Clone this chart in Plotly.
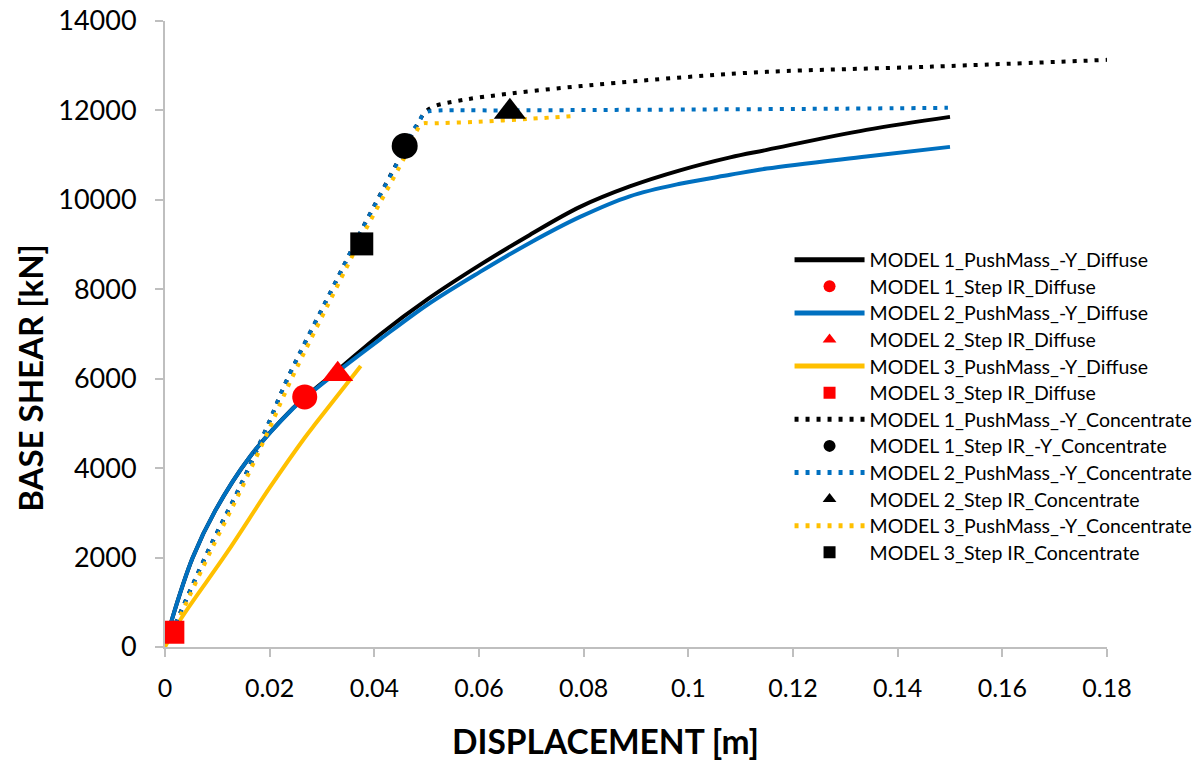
import plotly.graph_objects as go

# ---- data ----
m1_diff_x = [0.0006, 0.0013, 0.0053, 0.0096, 0.0162, 0.0245, 0.0269, 0.033, 0.0411, 0.0502, 0.0602, 0.0697, 0.0793, 0.0888, 0.0984, 0.108, 0.115, 0.134, 0.150]
m1_diff_y = [300, 604, 2000, 3050, 4250, 5346, 5600, 6190, 6990, 7780, 8545, 9216, 9843, 10300, 10660, 10950, 11118, 11565, 11856]

m2_diff_x = [0.0006, 0.0013, 0.0053, 0.0096, 0.0162, 0.0245, 0.0269, 0.033, 0.0411, 0.0502, 0.0602, 0.0697, 0.0793, 0.0888, 0.0984, 0.108, 0.115, 0.134, 0.150]
m2_diff_y = [300, 604, 2000, 3050, 4250, 5340, 5590, 6160, 6880, 7660, 8389, 9037, 9619, 10080, 10360, 10560, 10700, 10970, 11185]

m3_diff_x = [0.0, 0.0029, 0.0118, 0.0201, 0.0267, 0.029, 0.0374]
m3_diff_y = [0, 604, 2103, 3579, 4680, 5030, 6286]

m1_conc_x = [0.0012, 0.0029, 0.0086, 0.0143, 0.0195, 0.0233, 0.033, 0.0376, 0.0458, 0.0484, 0.0496, 0.0512, 0.057, 0.0655, 0.076, 0.0863, 0.100, 0.115, 0.1467, 0.180]
m1_conc_y = [300, 760, 2237, 3579, 4921, 5973, 8254, 9330, 11150, 11722, 11946, 12080, 12236, 12370, 12505, 12617, 12750, 12863, 12980, 13131]

m2_conc_x = [0.0012, 0.0029, 0.0086, 0.0143, 0.0195, 0.0233, 0.033, 0.0376, 0.0458, 0.0472, 0.0484, 0.0496, 0.0512, 0.065, 0.100, 0.130, 0.1496]
m2_conc_y = [300, 760, 2237, 3579, 4921, 5973, 8254, 9330, 11150, 11520, 11722, 11946, 11990, 12000, 12020, 12040, 12058]

m3_conc_x = [0.0012, 0.0031, 0.0090, 0.0147, 0.0200, 0.0240, 0.0336, 0.0382, 0.0464, 0.0479, 0.0491, 0.0510, 0.0596, 0.0697, 0.0783]
m3_conc_y = [260, 740, 2210, 3560, 4900, 5950, 8230, 9300, 11100, 11498, 11700, 11710, 11745, 11812, 11878]

m1_step_diff = (0.0267, 5593)
m2_step_diff = (0.0330, 6100)
m3_step_diff = (0.0015, 330)
m1_step_conc = (0.0458, 11207)
m2_step_conc = (0.0659, 11970)
m3_step_conc = (0.0376, 9015)

x_ticks = [0, 0.02, 0.04, 0.06, 0.08, 0.1, 0.12, 0.14, 0.16, 0.18]
x_tick_text = ["0", "0.02", "0.04", "0.06", "0.08", "0.1", "0.12", "0.14", "0.16", "0.18"]
y_ticks = [0, 2000, 4000, 6000, 8000, 10000, 12000, 14000]
y_tick_text = ["0", "2000", "4000", "6000", "8000", "10000", "12000", "14000"]

x_title = "DISPLACEMENT [m]"
y_title = "BASE SHEAR [kN]"

legend_order = ["MODEL 1_PushMass_-Y_Diffuse", "MODEL 1_Step IR_Diffuse",
                "MODEL 2_PushMass_-Y_Diffuse", "MODEL 2_Step IR_Diffuse",
                "MODEL 3_PushMass_-Y_Diffuse", "MODEL 3_Step IR_Diffuse",
                "MODEL 1_PushMass_-Y_Concentrate", "MODEL 1_Step IR_-Y_Concentrate",
                "MODEL 2_PushMass_-Y_Concentrate", "MODEL 2_Step IR_Concentrate",
                "MODEL 3_PushMass_-Y_Concentrate", "MODEL 3_Step IR_Concentrate"]

# ---- styles ----
BLACK = "#000000"
BLUE = "#0070C0"
YELLOW = "#FFC000"
RED = "#FF0000"
DOT = "4px,7px"
LW = 4

# legend layout (pixels)
PLOT_TOP, PLOT_BOTTOM = 21, 647
LEG_FIRST_ROW, LEG_ROW_STEP = 260, 26.6

def legend_key(name):
    i = legend_order.index(name)
    return "legend" if i == 0 else f"legend{i + 1}"

fig = go.Figure()

def line(x, y, name, color, dash=None):
    fig.add_trace(go.Scatter(x=x, y=y, mode="lines", name=name, legend=legend_key(name),
                             line=dict(color=color, width=LW,
                                       dash=dash if dash else "solid", shape="spline", smoothing=1.0)))

def marker(pt, name, color, symbol, size):
    fig.add_trace(go.Scatter(x=[pt[0]], y=[pt[1]], mode="markers", name=name, legend=legend_key(name),
                             marker=dict(color=color, symbol=symbol, size=size, line=dict(width=0))))

line(m1_diff_x, m1_diff_y, "MODEL 1_PushMass_-Y_Diffuse", BLACK)
line(m2_diff_x, m2_diff_y, "MODEL 2_PushMass_-Y_Diffuse", BLUE)
line(m3_diff_x, m3_diff_y, "MODEL 3_PushMass_-Y_Diffuse", YELLOW)
line(m1_conc_x, m1_conc_y, "MODEL 1_PushMass_-Y_Concentrate", BLACK, DOT)
line(m2_conc_x, m2_conc_y, "MODEL 2_PushMass_-Y_Concentrate", BLUE, DOT)
line(m3_conc_x, m3_conc_y, "MODEL 3_PushMass_-Y_Concentrate", YELLOW, DOT)
marker(m1_step_diff, "MODEL 1_Step IR_Diffuse", RED, "circle", 25)
marker(m2_step_diff, "MODEL 2_Step IR_Diffuse", RED, "triangle-up", 27)
marker(m3_step_diff, "MODEL 3_Step IR_Diffuse", RED, "square", 23)
marker(m1_step_conc, "MODEL 1_Step IR_-Y_Concentrate", BLACK, "circle", 26)
marker(m2_step_conc, "MODEL 2_Step IR_Concentrate", BLACK, "triangle-up", 28)
marker(m3_step_conc, "MODEL 3_Step IR_Concentrate", BLACK, "square", 23)

legends = {}
for i, name in enumerate(legend_order):
    yc = LEG_FIRST_ROW + i * LEG_ROW_STEP
    key = "legend" if i == 0 else f"legend{i + 1}"
    legends[key] = dict(x=0.663, y=(PLOT_BOTTOM - yc) / (PLOT_BOTTOM - PLOT_TOP),
                        xanchor="left", yanchor="middle", bgcolor="rgba(0,0,0,0)",
                        font=dict(family="Lato", size=19.5, color="#000000"), itemwidth=70,
                        itemsizing="constant", tracegroupgap=0)

axis_common = dict(showgrid=False, zeroline=False, showline=True, linecolor="#BFBFBF", linewidth=2,
                   ticks="outside", ticklen=8, tickcolor="#BFBFBF", tickwidth=2, automargin=False)

fig.update_layout(
    width=1203, height=762,
    margin=dict(l=165, r=96, t=PLOT_TOP, b=762 - PLOT_BOTTOM, autoexpand=False),
    paper_bgcolor="white", plot_bgcolor="white",
    font=dict(family="Lato", color="#000000"),
    xaxis=dict(range=[0, 0.18], tickvals=x_ticks, ticktext=x_tick_text,
               tickfont=dict(family="Lato", size=25, color="#000000"),
               ticklabelstandoff=10, **axis_common),
    yaxis=dict(range=[0, 14000], tickvals=y_ticks, ticktext=y_tick_text,
               tickfont=dict(family="Lato", size=27, color="#000000"),
               ticklabelstandoff=13, **axis_common),
    showlegend=True,
    annotations=[
        dict(text="<b>" + x_title + "</b>", xref="paper", yref="paper", x=0.468, y=0,
             xanchor="center", yanchor="middle", yshift=-94, showarrow=False,
             font=dict(family="Lato", size=33.5, color="#000000")),
        dict(text="<b>" + y_title + "</b>", xref="paper", yref="paper", x=0, y=0.43,
             xanchor="center", yanchor="middle", xshift=-135, textangle=-90, showarrow=False,
             font=dict(family="Lato", size=33, color="#000000")),
    ],
)
fig.update_layout(**legends)

fig.write_html("out.html")
